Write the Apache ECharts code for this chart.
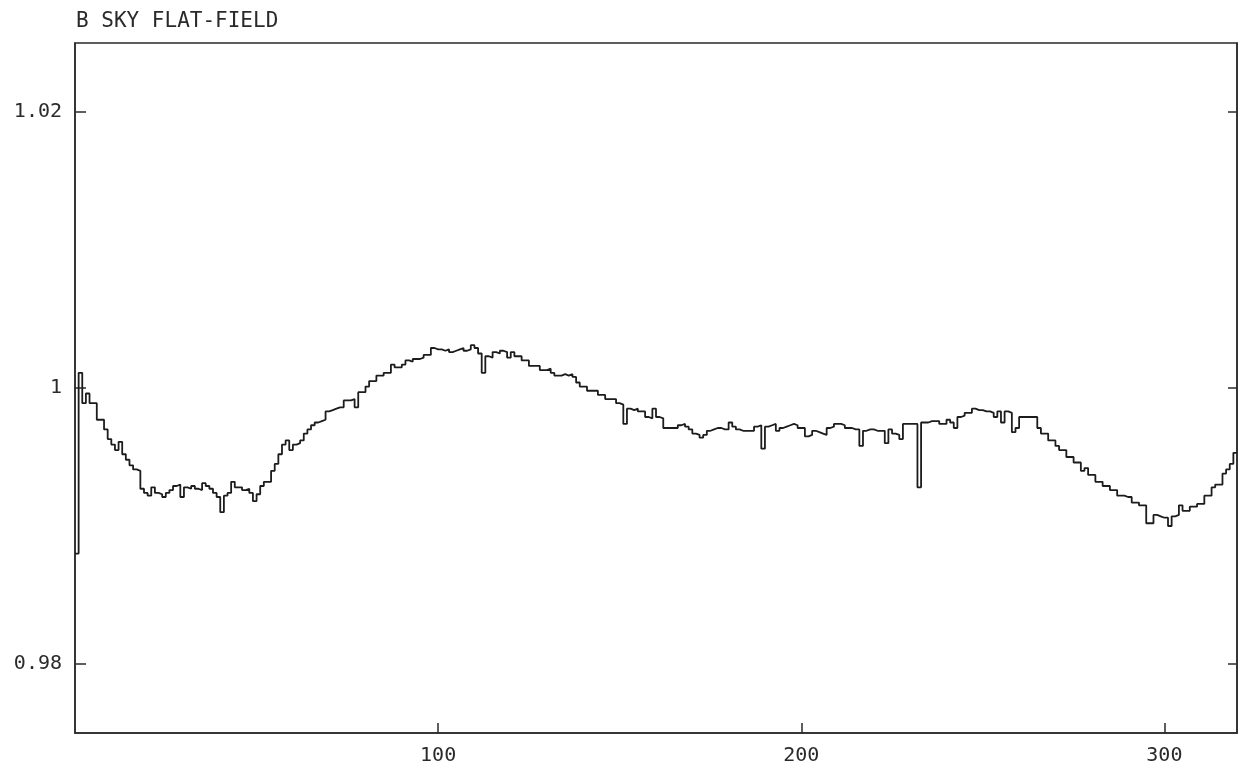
<!DOCTYPE html>
<html>
<head>
<meta charset="utf-8">
<script src="https://cdn.jsdelivr.net/npm/echarts@6/dist/echarts.min.js"></script>
<style>
html,body{margin:0;padding:0;background:#fff;}
#chart{width:1247px;height:774px;}
</style>
</head>
<body>
<div id="chart"></div>
<script>
// Chart title
const titleText = 'B SKY FLAT-FIELD';
// Axis ticks
const xTicks = [100, 200, 300];
const yTicks = [0.98, 1.0, 1.02];
const xRange = [0, 320];
const yRange = [0.975, 1.025];
// Binned flat-field values, one per column (bin width 1)
const binsA = [ // bins 0-79
 0.9880,1.0011,0.9989,0.9996,0.9989,0.9989,0.9977,0.9977,0.9970,0.9963,
 0.9959,0.9955,0.9961,0.9952,0.9948,0.9944,0.9941,0.9940,0.9927,0.9924,
 0.9922,0.9928,0.9924,0.9923,0.9921,0.9924,0.9926,0.9929,0.9930,0.9921,
 0.9928,0.9927,0.9929,0.9927,0.9926,0.9931,0.9929,0.9927,0.9924,0.9921,
 0.9910,0.9922,0.9924,0.9932,0.9928,0.9928,0.9926,0.9927,0.9924,0.9918,
 0.9923,0.9929,0.9932,0.9932,0.9940,0.9945,0.9952,0.9959,0.9962,0.9955,
 0.9959,0.9960,0.9962,0.9967,0.9970,0.9973,0.9975,0.9976,0.9977,0.9983,
 0.9984,0.9985,0.9986,0.9986,0.9991,0.9991,0.9992,0.9986,0.9997,0.9997
];
const binsB = [ // bins 80-159
 1.0001,1.0005,1.0005,1.0009,1.0009,1.0011,1.0011,1.0017,1.0015,1.0015,
 1.0017,1.0020,1.0019,1.0021,1.0021,1.0022,1.0024,1.0024,1.0029,1.0028,
 1.0028,1.0027,1.0028,1.0026,1.0027,1.0028,1.0029,1.0027,1.0028,1.0031,
 1.0029,1.0025,1.0011,1.0023,1.0022,1.0026,1.0025,1.0027,1.0026,1.0022,
 1.0026,1.0023,1.0023,1.0020,1.0020,1.0016,1.0016,1.0016,1.0013,1.0013,
 1.0014,1.0011,1.0009,1.0009,1.0010,1.0009,1.0010,1.0008,1.0004,1.0001,
 1.0001,0.9998,0.9998,0.9998,0.9995,0.9995,0.9992,0.9992,0.9992,0.9989,
 0.9988,0.9974,0.9985,0.9984,0.9985,0.9983,0.9983,0.9979,0.9978,0.9985
];
const binsC = [ // bins 160-239
 0.9979,0.9978,0.9971,0.9971,0.9971,0.9971,0.9973,0.9974,0.9972,0.9970,
 0.9967,0.9966,0.9964,0.9966,0.9969,0.9970,0.9971,0.9971,0.9970,0.9970,
 0.9975,0.9972,0.9970,0.9969,0.9969,0.9969,0.9969,0.9972,0.9973,0.9956,
 0.9972,0.9973,0.9974,0.9969,0.9971,0.9972,0.9973,0.9974,0.9973,0.9971,
 0.9971,0.9965,0.9966,0.9969,0.9968,0.9967,0.9966,0.9971,0.9972,0.9974,
 0.9974,0.9973,0.9971,0.9971,0.9970,0.9970,0.9958,0.9969,0.9970,0.9970,
 0.9969,0.9969,0.9969,0.9960,0.9970,0.9967,0.9966,0.9963,0.9974,0.9974,
 0.9974,0.9974,0.9928,0.9975,0.9975,0.9976,0.9976,0.9976,0.9974,0.9974
];
const binsD = [ // bins 240-319
 0.9977,0.9975,0.9971,0.9979,0.9980,0.9982,0.9982,0.9985,0.9984,0.9984,
 0.9983,0.9983,0.9982,0.9979,0.9983,0.9975,0.9983,0.9982,0.9968,0.9971,
 0.9979,0.9979,0.9979,0.9979,0.9979,0.9971,0.9967,0.9967,0.9962,0.9962,
 0.9958,0.9955,0.9955,0.9950,0.9950,0.9946,0.9946,0.9940,0.9942,0.9937,
 0.9937,0.9932,0.9932,0.9929,0.9929,0.9926,0.9926,0.9922,0.9922,0.9921,
 0.9921,0.9917,0.9917,0.9915,0.9915,0.9902,0.9902,0.9908,0.9907,0.9906,
 0.9906,0.9900,0.9907,0.9908,0.9915,0.9911,0.9911,0.9914,0.9914,0.9916,
 0.9916,0.9922,0.9922,0.9928,0.9930,0.9930,0.9938,0.9941,0.9945,0.9953
];

const bins = binsA.concat(binsB, binsC, binsD);
const stepData = bins.map((v, i) => [i, v]);
stepData.push([bins.length, bins[bins.length - 1]]);

const FONT = 'DejaVu Sans Mono';
const INK = '#2a2a2a';
const chart = echarts.init(document.getElementById('chart'), null, {renderer: 'canvas'});
chart.setOption({
  animation: false,
  backgroundColor: '#ffffff',
  title: {
    text: titleText, left: 71, top: 6,
    textStyle: {fontFamily: FONT, fontSize: 21, fontWeight: 'normal', color: INK}
  },
  grid: {left: 75, right: 10, top: 43, bottom: 41, show: true, borderColor: INK, borderWidth: 1.5, backgroundColor: 'transparent'},
  xAxis: {
    type: 'value', min: xRange[0], max: xRange[1],
    axisLine: {show: true, onZero: false, lineStyle: {color: INK, width: 1.5}},
    axisTick: {show: true, inside: true, length: 10, customValues: xTicks, lineStyle: {color: INK, width: 1.5}},
    axisLabel: {customValues: xTicks, margin: 13, fontFamily: FONT, fontSize: 20, color: INK},
    splitLine: {show: false}
  },
  yAxis: [{
    type: 'value', min: yRange[0], max: yRange[1], position: 'left',
    axisLine: {show: true, onZero: false, lineStyle: {color: INK, width: 1.5}},
    axisTick: {show: true, inside: true, length: 11, customValues: yTicks, lineStyle: {color: INK, width: 1.5}},
    axisLabel: {customValues: yTicks, margin: 13, fontFamily: FONT, fontSize: 20, color: INK,
      formatter: v => (Math.abs(v - 1) < 1e-9 ? '1' : v.toFixed(2))},
    splitLine: {show: false}
  }, {
    type: 'value', min: yRange[0], max: yRange[1], position: 'right',
    axisLine: {show: true, onZero: false, lineStyle: {color: INK, width: 1.5}},
    axisTick: {show: true, inside: true, length: 9, customValues: yTicks, lineStyle: {color: INK, width: 1.5}},
    axisLabel: {show: false},
    splitLine: {show: false}
  }],
  series: [{
    type: 'line', step: 'end', data: stepData, showSymbol: false, symbol: 'none',
    clip: true,
    lineStyle: {color: '#1c1c1c', width: 1.8},
    silent: true
  }]
});
</script>
</body>
</html>
